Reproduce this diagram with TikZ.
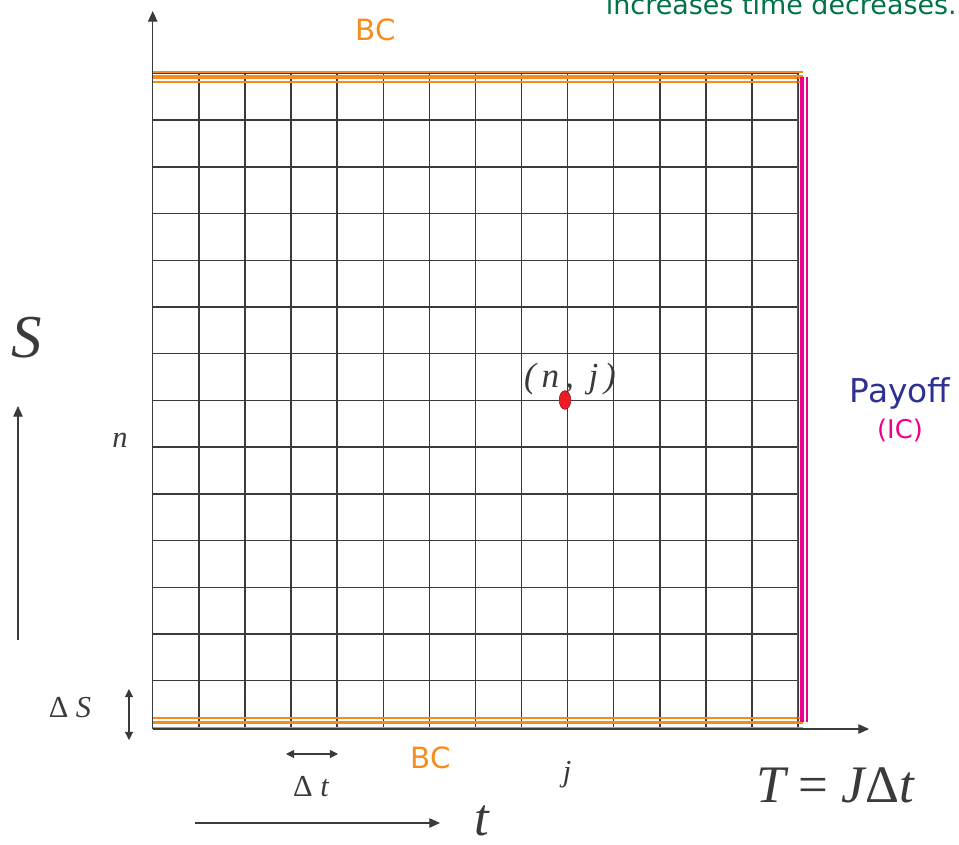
\documentclass[tikz,border=0pt]{standalone}
\usepackage{fontspec}
\setsansfont{DejaVu Sans}
\newfontfamily\timesfont{Liberation Serif}
\usetikzlibrary{arrows.meta, positioning, calc, shapes.geometric}
\definecolor{GridGray}{RGB}{58,58,60}
\definecolor{BCOrange}{RGB}{247,140,30}
\definecolor{ICMagenta}{RGB}{236,0,140}
\definecolor{PayBlue}{RGB}{46,49,146}
\definecolor{NoteGreen}{RGB}{0,115,70}
\definecolor{DotRed}{RGB}{237,28,36}

\begin{document}
\begin{tikzpicture}[
    x=0.03cm, y=-0.03cm,
    gridline/.style={GridGray, line width=1.2pt},
    axis/.style={-{Triangle[length=9pt, width=8pt]}, GridGray, line width=0.9pt},
    dimarrow/.style={{Triangle[length=7pt, width=7pt]}-{Triangle[length=7pt, width=7pt]}, GridGray, line width=0.9pt},
    bcline/.style={BCOrange},
    icline/.style={ICMagenta},
    lbl/.style={font=\timesfont\itshape\fontsize{26}{26}\selectfont, text=GridGray, inner sep=0pt},
    biglbl/.style={font=\timesfont\itshape\fontsize{45}{45}\selectfont, text=GridGray, inner sep=0pt},
    bc/.style={font=\sffamily\fontsize{25}{25}\selectfont, text=BCOrange, inner sep=0pt},
]
\useasboundingbox (0,0) rectangle (959,844);

% ================= grid =================
\foreach \i in {0,...,14} {
    \draw[gridline] ({152.7+46.1*\i},73.5) -- ({152.7+46.1*\i},727.3);
    \draw[gridline] (152.7,{73.5+46.7*\i}) -- (798.1,{73.5+46.7*\i});
}

% ================= boundary / initial conditions =================
\draw[bcline, line width=1.4pt] (152,72) -- (803,72);
\draw[bcline, line width=2.6pt] (152,77) -- (803,77);
\draw[bcline, line width=1.7pt] (152,82) -- (803,82);
\draw[bcline, line width=1.4pt] (152,718.3) -- (803,718.3);
\draw[bcline, line width=2.6pt] (152,722.7) -- (803,722.7);
\draw[bcline, line width=1.7pt] (152,727.7) -- (803,727.7);
\draw[icline, line width=1.2pt] (797.7,77) -- (797.7,722);
\draw[icline, line width=2.6pt] (802,77) -- (802,722);
\draw[icline, line width=1.5pt] (806.7,77) -- (806.7,722);

% ================= axes =================
\coordinate (origin) at (152.7,729);
\coordinate (stop) at (152.7,11);
\coordinate (tend) at (869,729);
\draw[axis] (origin) -- (stop);
\draw[axis] (origin) -- (tend);

% direction arrows
\coordinate (sdir0) at (18,640);
\coordinate (sdir1) at (18,406);
\draw[axis] (sdir0) -- (sdir1);
\coordinate (tdir0) at (195,823);
\coordinate (tdir1) at (440,823);
\draw[axis] (tdir0) -- (tdir1);

% step sizes
\coordinate (ds0) at (129,689);
\coordinate (ds1) at (129,740);
\draw[dimarrow] (ds0) -- (ds1);
\coordinate (dt0) at (286,754);
\coordinate (dt1) at (338,754);
\draw[dimarrow] (dt0) -- (dt1);

% ================= labels =================
\node[bc] (bctop) at (376,30) {BC};
\node[bc] (bcbot) at (431,758) {BC};
\node[font=\sffamily\fontsize{23}{23}\selectfont, text=NoteGreen, anchor=base east, inner sep=0pt]
    (note) at (957,15) {increases time decreases.};
\node[font=\sffamily\fontsize{28}{28}\selectfont, text=PayBlue, inner sep=0pt] (payoff) at (900,393) {Payoff};
\node[font=\sffamily\fontsize{22}{22}\selectfont, text=ICMagenta, inner sep=0pt, below=8pt of payoff] (ic) {(IC)};

\node[ellipse, fill=DotRed, draw=DotRed!60!black, line width=0.4pt,
      minimum width=10pt, minimum height=16pt, inner sep=0pt] (ndot) at (565,400) {};
\node[lbl, font=\timesfont\itshape\fontsize{30}{30}\selectfont, anchor=base] (nj) at (570,387) {({\,}n\,, {\,}j\,)};

\node[biglbl, font=\timesfont\itshape\fontsize{52}{52}\selectfont] (slbl) at (27,338) {S};
\node[lbl] (nlbl) at (120,440) {n};
\node[lbl] (dslbl) at (70,708) {{\upshape Δ} S};
\node[lbl] (dtlbl) at (311,787) {{\upshape Δ} t};
\node[lbl] (jlbl) at (567,775) {j};
\node[biglbl] (tmax) at (835,785) {T {\upshape =} J{\upshape Δ}t};
\node[biglbl] (tlbl) at (482,821) {t};

\end{tikzpicture}
\end{document}
